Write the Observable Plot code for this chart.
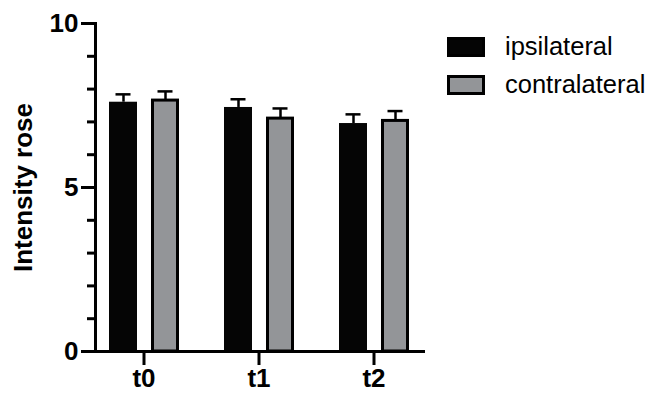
<!DOCTYPE html>
<html>
<head>
<meta charset="utf-8">
<script src="https://cdn.jsdelivr.net/npm/d3@7"></script>
<script src="https://cdn.jsdelivr.net/npm/@observablehq/plot@0.6"></script>
<style>
  html, body { margin: 0; padding: 0; background: white; }
  #wrap { position: relative; width: 651px; height: 393px; font-family: "Liberation Sans", Arial, sans-serif; }
  #legend { position: absolute; left: 447px; top: 37px; }
  .item { display: flex; align-items: center; height: 20px; margin-bottom: 18px; }
  .sw { width: 38px; height: 20px; box-sizing: border-box; }
  .lab { margin-left: 20px; font-size: 25.5px; line-height: 20px; color: black; position: relative; top: -1px; }
</style>
</head>
<body>
<div id="wrap"><div id="legend"></div></div>
<script>
const categories = ["t0", "t1", "t2"];
const seriesNames = ["ipsilateral", "contralateral"];
const seriesColors = ["#050505", "#939598"];
const ipsilateral = [7.60, 7.44, 6.95];
const ipsilateralSem = [0.24, 0.25, 0.28];
const contralateral = [7.65, 7.10, 7.03];
const contralateralSem = [0.28, 0.31, 0.30];
const majorTicks = [0, 5, 10];
const minorTicks = [0, 1, 2, 3, 4, 5, 6, 7, 8, 9, 10];
const yLabel = "Intensity rose";

const ipsiData = categories.map((t, i) => ({t, v: ipsilateral[i], e: ipsilateralSem[i]}));
const contraData = categories.map((t, i) => ({t, v: contralateral[i], e: contralateralSem[i]}));

const font = "'Liberation Sans', Arial, sans-serif";

const chart = Plot.plot({
  width: 651,
  height: 393,
  marginLeft: 95,
  marginRight: 228,
  marginTop: 23,
  marginBottom: 42,
  style: {fontFamily: font, color: "black", background: "white", overflow: "visible"},
  x: {domain: categories, range: [85.5, 430.5], paddingInner: 0, paddingOuter: 0},
  y: {domain: [0, 10]},
  marks: [
    Plot.ruleX(ipsiData, {x: "t", y1: "v", y2: d => d.v + d.e, dx: -20.5, stroke: "black", strokeWidth: 2.5}),
    Plot.ruleX(contraData, {x: "t", y1: "v", y2: d => d.v + d.e, dx: 21.5, stroke: "black", strokeWidth: 2.5}),
    Plot.barY(ipsiData, {x: "t", y: "v", fill: seriesColors[0], insetLeft: 23, insetRight: 64}),
    Plot.barY(contraData, {x: "t", y: "v", fill: seriesColors[1], stroke: "black", strokeWidth: 3, insetLeft: 66.5, insetRight: 23.5}),
    Plot.tickY(ipsiData, {x: "t", y: d => d.v + d.e, stroke: "black", strokeWidth: 2.5, insetLeft: 29.5, insetRight: 70.5}),
    Plot.tickY(contraData, {x: "t", y: d => d.v + d.e, stroke: "black", strokeWidth: 2.5, insetLeft: 71.5, insetRight: 28.5}),
    Plot.axisY({ticks: minorTicks, tickSize: 8, strokeWidth: 3, tickFormat: () => "", label: null}),
    Plot.axisY({ticks: majorTicks, tickSize: 14, strokeWidth: 3, tickPadding: 3, fontSize: 26, fontWeight: "bold",
      label: yLabel, labelAnchor: "center", labelArrow: "none", labelOffset: 82}),
    Plot.axisX({tickSize: 14, strokeWidth: 3, tickPadding: 3, fontSize: 26, fontWeight: "bold", label: null}),
    Plot.frame({anchor: "left", stroke: "black", strokeWidth: 3}),
    Plot.frame({anchor: "bottom", stroke: "black", strokeWidth: 3})
  ]
});
chart.querySelectorAll("text").forEach(t => {
  const s = t.textContent;
  if (s === yLabel || categories.includes(s) || majorTicks.map(String).includes(s)) {
    t.setAttribute("font-size", "26");
    t.style.fontSize = "26px";
    t.setAttribute("font-weight", "bold");
  }
});
document.getElementById("wrap").prepend(chart);

const legend = document.getElementById("legend");
seriesNames.forEach((name, i) => {
  const item = document.createElement("div");
  item.className = "item";
  const sw = document.createElement("div");
  sw.className = "sw";
  sw.style.background = seriesColors[i];
  sw.style.border = "3px solid black";
  const lab = document.createElement("span");
  lab.className = "lab";
  lab.textContent = name;
  item.append(sw, lab);
  legend.append(item);
});
</script>
</body>
</html>
